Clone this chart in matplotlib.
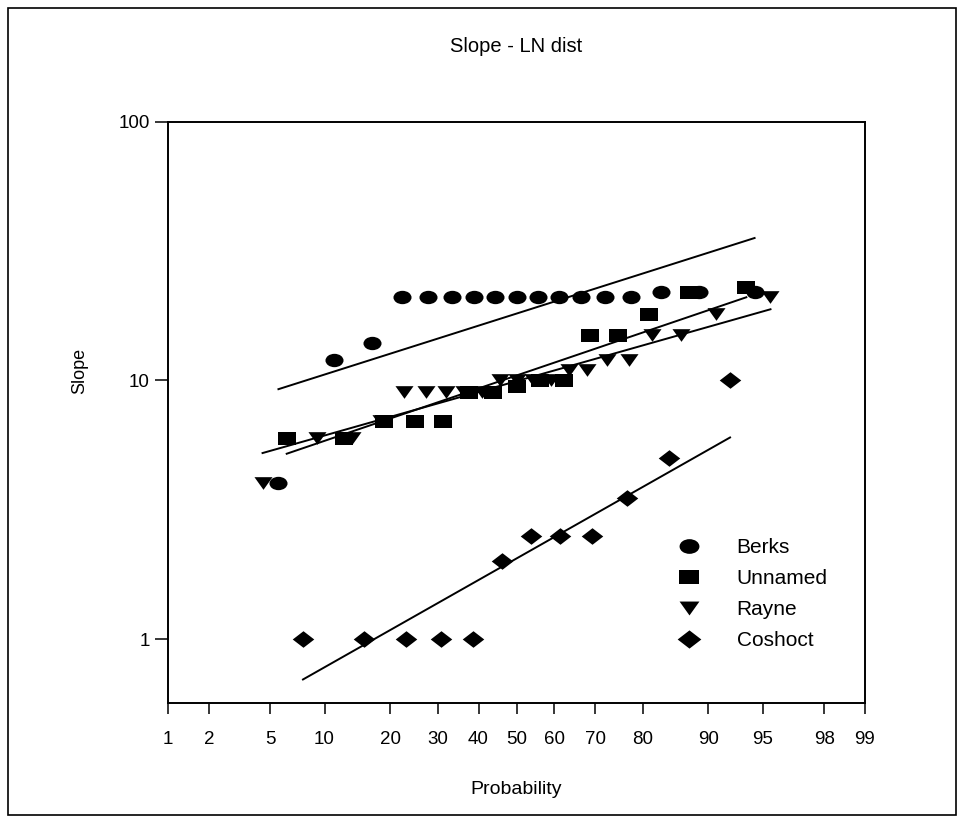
import numpy as np
import matplotlib
matplotlib.use("Agg")
import matplotlib.pyplot as plt
from matplotlib.path import Path
from matplotlib.transforms import Affine2D
from matplotlib.lines import Line2D
from matplotlib.patches import Rectangle
from statistics import NormalDist

plt.rcParams['font.family'] = ['Liberation Sans', 'DejaVu Sans']

# probability (%) at each ranked slope, and the slopes themselves
berks_prob = [5.6, 11.1, 16.7, 22.2, 27.8, 33.3, 38.9, 44.4, 50.0, 55.6, 61.1,
              66.7, 72.2, 77.8, 83.3, 88.9, 94.4]
berks_slope = [4, 12, 14, 21, 21, 21, 21, 21, 21, 21, 21, 21, 21, 21, 22, 22, 22]

unnamed_prob = [6.25, 12.5, 18.75, 25.0, 31.25, 37.5, 43.75, 50.0, 56.25, 62.5,
                68.75, 75.0, 81.25, 87.5, 93.75]
unnamed_slope = [6, 6, 7, 7, 7, 9, 9, 9.5, 10, 10, 15, 15, 18, 22, 23]

rayne_prob = [4.5, 9.1, 13.6, 18.2, 22.7, 27.3, 31.8, 36.4, 40.9, 45.5, 50.0,
              54.5, 59.1, 63.6, 68.2, 72.7, 77.3, 81.8, 86.4, 90.9, 95.5]
rayne_slope = [4, 6, 6, 7, 9, 9, 9, 9, 9, 10, 10, 10, 10, 11, 11, 12, 12, 15, 15, 18, 21]

coshoct_prob = [7.7, 15.4, 23.1, 30.8, 38.5, 46.2, 53.8, 61.5, 69.2, 76.9, 84.6, 92.3]
coshoct_slope = [1, 1, 1, 1, 1, 2, 2.5, 2.5, 2.5, 3.5, 5, 10]

prob_ticks = [1, 2, 5, 10, 20, 30, 40, 50, 60, 70, 80, 90, 95, 98, 99]
slope_ticks = [1, 10, 100]

nd = NormalDist()


def _ppf(v):
    if not np.isfinite(v):
        return np.nan
    v = min(max(v, 1e-9), 100 - 1e-9)
    return nd.inv_cdf(v / 100.0)


def _cdf(v):
    if not np.isfinite(v):
        return np.nan
    return nd.cdf(v) * 100.0


prob_fwd = np.vectorize(_ppf, otypes=[float])
prob_inv = np.vectorize(_cdf, otypes=[float])


def lognormal_fit(prob, slope):
    # straight line on probability paper: mean and sample std of log10 values
    logs = np.log10(slope)
    mu, sd = logs.mean(), logs.std(ddof=1)
    ends = np.array([prob[0], prob[-1]])
    return ends, 10 ** (mu + sd * prob_fwd(ends))


# symbols are drawn a little wider than tall
ellipse = Path.unit_circle().transformed(Affine2D().scale(1.0, 0.74))
rect = [(-1, -0.72), (1, -0.72), (1, 0.72), (-1, 0.72)]
tri_down = [(-1, 0.7), (1, 0.7), (0, -0.7)]
diamond = [(-1, 0), (0, 0.77), (1, 0), (0, -0.77)]

series = [
    ("Berks", berks_prob, berks_slope, ellipse, 13),
    ("Unnamed", unnamed_prob, unnamed_slope, rect, 13),
    ("Rayne", rayne_prob, rayne_slope, tri_down, 13),
    ("Coshoct", coshoct_prob, coshoct_slope, diamond, 15.5),
]

fig = plt.figure(figsize=(9.64, 8.23), dpi=100)
ax = fig.add_axes([0.1743, 0.1458, 0.7230, 0.7060])
ax.set_xscale('function', functions=(prob_fwd, prob_inv))
ax.set_yscale('log')

handles = []
for name, p, s, mk, ms in series:
    ax.plot(p, s, linestyle='none', marker=mk, markersize=ms,
            color='black', markeredgewidth=0)
    xs, ys = lognormal_fit(np.array(p), np.array(s, dtype=float))
    ax.plot(xs, ys, color='black', linewidth=1.4)
    handles.append(Line2D([], [], linestyle='none', marker=mk, markersize=ms * 1.1,
                          color='black', markeredgewidth=0, label=name))

ax.set_xlim(1, 99)
ax.set_ylim(0.5655, 100)
ax.set_xticks(prob_ticks)
ax.set_xticklabels([str(t) for t in prob_ticks])
ax.set_yticks(slope_ticks)
ax.set_yticklabels([str(t) for t in slope_ticks])
ax.xaxis.set_minor_locator(matplotlib.ticker.NullLocator())
ax.yaxis.set_minor_locator(matplotlib.ticker.NullLocator())

ax.tick_params(axis='x', direction='out', length=8, width=1.1, pad=12, labelsize=13.5)
ax.tick_params(axis='y', direction='out', length=9.5, width=1.1, pad=3.5, labelsize=13.5)
for sp in ax.spines.values():
    sp.set_linewidth(1.4)

ax.set_ylabel("Slope", fontsize=13)
ax.yaxis.set_label_coords(-0.114, 0.571)

fig.text(0.5358, 1 - 47 / 823, "Slope - LN dist", ha='center', va='center', fontsize=14.5)
fig.text(0.5358, 1 - 789 / 823, "Probability", ha='center', va='center', fontsize=14)

ax.legend(handles=handles, loc='upper left', frameon=False, fontsize=15,
          bbox_to_anchor=(668 / 964, 1 - 538 / 823), bbox_transform=fig.transFigure,
          borderpad=0, borderaxespad=0, handlelength=2.0, handletextpad=1.3,
          labelspacing=0.58)

# thin frame round the whole figure
fig.patches.append(Rectangle((8 / 964, 8 / 823), 948 / 964, 807 / 823,
                             transform=fig.transFigure, fill=False,
                             edgecolor='black', linewidth=1.2))

fig.savefig("out.png", dpi=100)
